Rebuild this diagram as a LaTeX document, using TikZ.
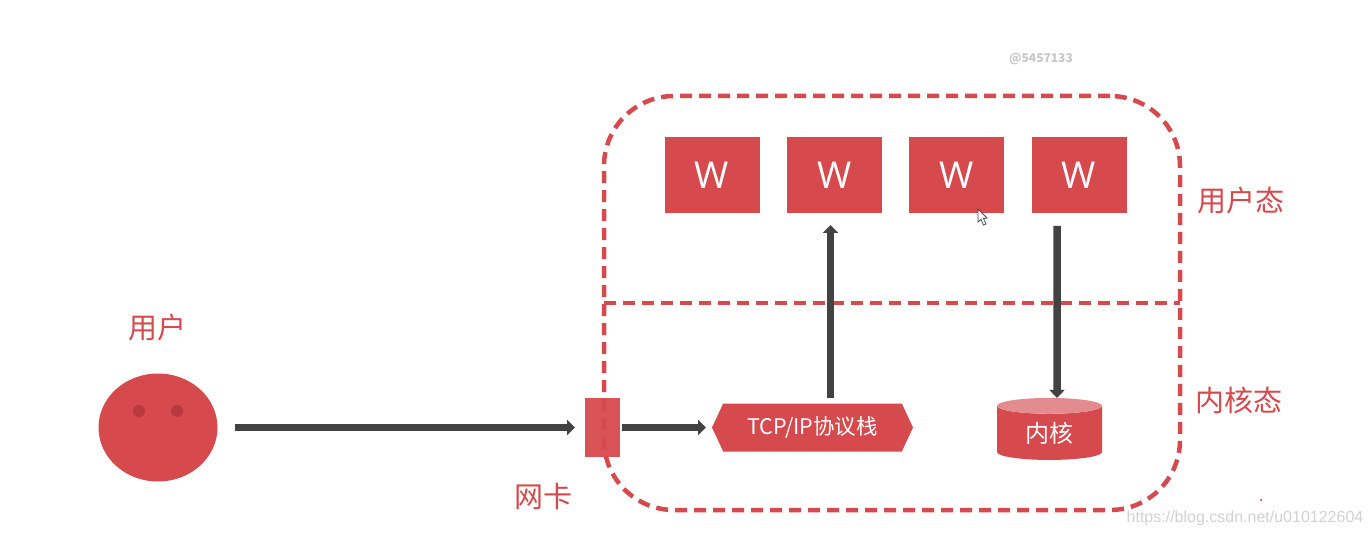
\documentclass[tikz,border=0pt]{standalone}
\usepackage{fontspec}
\setmainfont{Noto Sans CJK SC}
\newfontfamily\urlfont{Liberation Sans}
\newfontfamily\wfont{Open Sans}
\usepackage{tikz}
\usetikzlibrary{arrows.meta,shapes.geometric,shapes.symbols}
\definecolor{DiagramRed}{RGB}{214,73,77}
\definecolor{DiagramEye}{RGB}{184,58,62}
\definecolor{DiagramTop}{RGB}{226,140,144}
\definecolor{DiagramArrow}{RGB}{66,66,66}

\begin{document}
\begin{tikzpicture}[x=1pt,y=-1pt,
   dashline/.style={DiagramRed,line width=4.5pt,dash pattern=on 12pt off 7pt},
   wbox/.style={rectangle,fill=DiagramRed,text=white,minimum width=95pt,minimum height=76pt,inner sep=0pt,outer sep=0pt,font=\fontsize{37}{37}\wfont},
   lbl/.style={text=DiagramRed,inner sep=0pt,font=\fontsize{29}{29}\selectfont},
   arr/.style={DiagramArrow,line width=7.5pt,-{Triangle[length=8pt,width=15pt]}}]
\useasboundingbox (0,0) rectangle (1371,537);
\node[dashline,rectangle,draw,rounded corners=70pt,minimum width=576pt,minimum height=414pt,inner sep=0pt,outer sep=0pt](hostbox) at(892,303) {};
\draw[dashline] (hostbox.west) -- (hostbox.east);
\foreach \n/\x in %
{1/712,2/834.5,3/956.5,4/1079} {
   \node[wbox](w\n) at(\x,175) {W};
}
\node[ellipse,fill=DiagramRed,minimum width=119pt,minimum height=108pt,inner sep=0pt,outer sep=0pt](user) at(158,427.5) {};
\foreach \n/\x in %
{l/139,r/177} {
   \node[circle,fill=DiagramEye,minimum size=12pt,inner sep=0pt](eye\n) at(\x,411) {};
}
\node[rectangle,fill=DiagramRed,fill opacity=0.95,minimum width=35pt,minimum height=59pt,inner sep=0pt,outer sep=0pt](nic) at(602.5,427.5) {};
\node[signal,signal to=west and east,signal pointer angle=130,fill=DiagramRed,text=white,minimum width=201pt,minimum height=48pt,inner sep=0pt,outer sep=0pt,font=\fontsize{21.5}{21.5}\selectfont](tcp) at(812.5,427.5) {TCP/IP协议栈};
\node[cylinder,shape border rotate=90,shape aspect=0.33,cylinder uses custom fill,cylinder body fill=DiagramRed,cylinder end fill=DiagramTop,minimum width=105pt,minimum height=62pt,inner sep=0pt,outer sep=0pt,text=white,font=\fontsize{24}{24}\selectfont](core) at(1049.5,433) {\raisebox{-6pt}{内核}};
\node[lbl](userlbl) at(157,327) {用户};
\node[lbl](niclbl) at(543,496) {网卡};
\node[lbl](ustate) at(1241,200) {用户态};
\node[lbl](kstate) at(1239,400) {内核态};
\node[text=black!22,font=\fontsize{12}{12}\selectfont\bfseries](tag) at(1041,59) {@5457133};
\node[text=black!18,font=\fontsize{16}{16}\urlfont](url) at(1245,518) {https://blog.csdn.net/u010122604};
\draw[arr,shorten <=17pt,shorten >=10pt] (user.east) -- (nic.west);
\draw[arr,shorten <=2pt,shorten >=6pt] (nic.east) -- (tcp.west);
\draw[arr,shorten <=6pt,shorten >=12pt] ([xshift=18pt]tcp.north) -- ([xshift=-4pt]w2.south);
\draw[arr,shorten <=13pt] ([xshift=-22pt]w4.south) -- ([xshift=7.5pt]core.north);
% cursor and dot
\draw[fill=white,draw=black!70,line width=0.8pt] (978,209) -- (978,222) -- (981,219.5) -- (983.5,225) -- (986,224) -- (983.5,218.5) -- (987,218) -- cycle;
\fill[red] (1261,500) circle (1pt);
\end{tikzpicture}
\end{document}
